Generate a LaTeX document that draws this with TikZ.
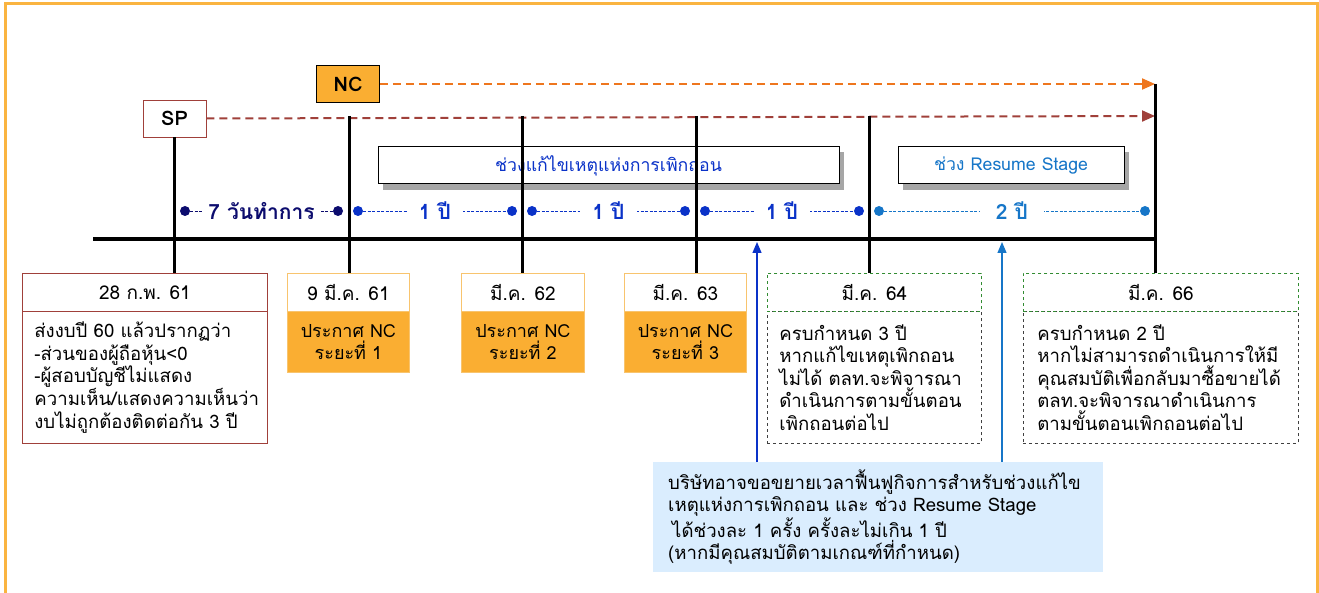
\documentclass[tikz,border=0pt]{standalone}
\usepackage{fontspec}
\setmainfont[Script=Thai]{Loma}
\usetikzlibrary{arrows.meta}

\definecolor{frameorange}{RGB}{250,180,64}
\definecolor{ncorange}{RGB}{250,174,50}
\definecolor{ncline}{RGB}{238,118,30}
\definecolor{spbrown}{RGB}{160,64,58}
\definecolor{paleorange}{RGB}{248,196,110}
\definecolor{dgreen}{RGB}{50,140,50}
\definecolor{navy}{RGB}{12,12,110}
\definecolor{tblue}{RGB}{10,50,200}
\definecolor{rblue}{RGB}{22,118,200}
\definecolor{notefill}{RGB}{218,237,254}

\begin{document}
\begin{tikzpicture}[x=1pt,y=-1pt,
tag/.style={
draw,
line width=0.9pt,
minimum width=63pt,
minimum height=37pt,
inner sep=0pt,
font=\fontsize{20}{24}\selectfont\bfseries},
period/.style={
draw,
line width=1pt,
fill=white,
minimum height=37pt,
inner sep=0pt,
font=\fontsize{17.7}{20}\selectfont},
boxshade/.style={fill=black!35},
head/.style={
draw,
fill=white,
line width=0.8pt,
anchor=north west,
minimum height=38pt,
inner sep=0pt,
font=\fontsize{19}{22}\selectfont},
body/.style={
draw,
line width=0.8pt,
anchor=north west,
inner xsep=12pt,
inner ysep=0pt,
font=\fontsize{18.6}{22.6}\selectfont},
tick/.style={line width=3pt},
dot/.style={circle,fill,inner sep=0pt,minimum size=10pt},
span/.style={line width=0.8pt,dash pattern=on 3pt off 1.5pt},
spanlabel/.style={fill=white,inner ysep=2pt,inner xsep=12pt,font=\fontsize{21}{24}\selectfont\bfseries},
topline/.style={line width=2pt,dash pattern=on 8pt off 5pt,-{Triangle[length=13pt,width=11pt]}},
uparrow/.style={line width=1.2pt,-{Triangle[length=11pt,width=9pt]}}
]
\useasboundingbox (0,0) rectangle (1319,593);
\draw[frameorange,line width=3pt] (5,4) rectangle (1317,610);

% status flags
\draw (174.5,118.5) node[tag,draw=spbrown,fill=white] (sp) {SP};
\draw (348,84) node[tag,fill=ncorange] (nc) {NC};
\coordinate (spend) at (1155,116);
\coordinate (ncend) at (1155,84);
\draw[topline,ncline] (nc.east) -- (ncend);
\draw[topline,spbrown] (sp.east) -- (spend);

% periods
\fill[boxshade] (383,152) rectangle (844,190);
\fill[boxshade] (903,152) rectangle (1129,190);
\draw (608.5,165.5) node[period,minimum width=461pt,text=tblue] (fix) {ช่วงแก้ไขเหตุแห่งการเพิกถอน};
\draw (1011,165.5) node[period,minimum width=226pt,text=rblue] (resume) {ช่วง Resume Stage};

% date boxes
\draw (22,311) node[body,draw=spbrown,minimum width=245pt,minimum height=132pt,text width=221pt,align=left] (b61) {ส่งงบปี 60 แล้วปรากฏว่า\\-ส่วนของผู้ถือหุ้น<0\\-ผู้สอบบัญชีไม่แสดง\\ความเห็น/แสดงความเห็นว่า\\งบไม่ถูกต้องติดต่อกัน 3 ปี};
\draw (22,273) node[head,draw=spbrown,minimum width=245pt] (d61) {28 ก.พ. 61};

\draw (287,311) node[body,draw=paleorange,fill=ncorange,minimum width=122pt,minimum height=61pt,text width=98pt,align=center,font=\fontsize{18}{22.6}\selectfont] (nc1) {ประกาศ NC\\ระยะที่ 1};
\draw (287,273) node[head,draw=paleorange,minimum width=122pt] (d61b) {9 มี.ค. 61};
\draw (461,311) node[body,draw=paleorange,fill=ncorange,minimum width=123pt,minimum height=61pt,text width=99pt,align=center,font=\fontsize{18}{22.6}\selectfont] (nc2) {ประกาศ NC\\ระยะที่ 2};
\draw (461,273) node[head,draw=paleorange,minimum width=123pt] (d62) {มี.ค. 62};
\draw (624,311) node[body,draw=paleorange,fill=ncorange,minimum width=122pt,minimum height=61pt,text width=98pt,align=center,font=\fontsize{18}{22.6}\selectfont] (nc3) {ประกาศ NC\\ระยะที่ 3};
\draw (624,273) node[head,draw=paleorange,minimum width=122pt] (d63) {มี.ค. 63};

\draw (767,311) node[body,dashed,draw=black!75,minimum width=214pt,minimum height=132pt,text width=190pt,inner xsep=12pt,align=left] (b64) {ครบกำหนด 3 ปี\\หากแก้ไขเหตุเพิกถอน\\ไม่ได้ ตลท.จะพิจารณา\\ดำเนินการตามขั้นตอน\\เพิกถอนต่อไป};
\draw (767,273) node[head,dashed,draw=dgreen,minimum width=214pt] (d64) {มี.ค. 64};
\draw (1023,311) node[body,dashed,draw=black!75,minimum width=275pt,minimum height=132pt,text width=255pt,inner xsep=10pt,align=left] (b66) {\hspace*{4pt}ครบกำหนด 2 ปี\\\hspace*{4pt}หากไม่สามารถดำเนินการให้มี\\\hspace*{4pt}คุณสมบัติเพื่อกลับมาซื้อขายได้\\\hspace*{4pt}ตลท.จะพิจารณาดำเนินการ\\\hspace*{4pt}ตามขั้นตอนเพิกถอนต่อไป};
\draw (1023,273) node[head,dashed,draw=dgreen,minimum width=275pt] (d66) {มี.ค. 66};

% timeline
\coordinate (k2) at (349,116);
\coordinate (k3) at (522,116);
\coordinate (k4) at (696,116);
\coordinate (k5) at (869,116);
\draw[tick] (sp.south) -- (sp.south |- d61.north);
\draw[tick] (k2) -- (k2 |- d61b.north);
\draw[tick] (k3) -- (k3 |- d62.north);
\draw[tick] (k4) -- (k4 |- d63.north);
\draw[tick] (k5) -- (k5 |- d64.north);
\draw[tick] (ncend) -- (ncend |- d66.north);
\coordinate (axisstart) at (93,239);
\coordinate (axisend) at (1157,239);
\draw[line width=4pt] (axisstart) -- (axisend);

% spans
\draw (185,211) node[dot,navy] (w1) {};
\draw (338,211) node[dot,navy] (w2) {};
\draw[span,navy] (w1) -- (w2) node[midway,spanlabel,text=navy,inner xsep=6pt] {7 วันทำการ};
\draw (358,211) node[dot,tblue] (y1a) {};
\draw (512,211) node[dot,tblue] (y1b) {};
\draw[span,tblue] (y1a) -- (y1b) node[midway,spanlabel,text=tblue] {1 ปี};
\draw (532,211) node[dot,tblue] (y2a) {};
\draw (685,211) node[dot,tblue] (y2b) {};
\draw[span,tblue] (y2a) -- (y2b) node[midway,spanlabel,text=tblue] {1 ปี};
\draw (705,211) node[dot,tblue] (y3a) {};
\draw (859,211) node[dot,tblue] (y3b) {};
\draw[span,tblue] (y3a) -- (y3b) node[midway,spanlabel,text=tblue] {1 ปี};
\draw (879,211) node[dot,rblue] (y4a) {};
\draw (1145,211) node[dot,rblue] (y4b) {};
\draw[span,rblue] (y4a) -- (y4b) node[midway,spanlabel,text=rblue,inner xsep=16pt] {2 ปี};

% extension note
\draw (653,462) node[anchor=north west,fill=notefill,minimum width=450pt,minimum height=110pt,inner xsep=15pt,text width=420pt,align=left,font=\fontsize{18.6}{22}\selectfont] (note) {บริษัทอาจขอขยายเวลาฟื้นฟูกิจการสำหรับช่วงแก้ไข\\เหตุแห่งการเพิกถอน และ ช่วง Resume Stage\\\hspace*{4pt}ได้ช่วงละ 1 ครั้ง ครั้งละไม่เกิน 1 ปี\\(หากมีคุณสมบัติตามเกณฑ์ที่กำหนด)};
\coordinate (u1) at (757,242);
\coordinate (u2) at (1002,242);
\draw[uparrow,tblue] (u1 |- note.north) -- (u1);
\draw[uparrow,rblue] (u2 |- note.north) -- (u2);

\end{tikzpicture}
\end{document}
